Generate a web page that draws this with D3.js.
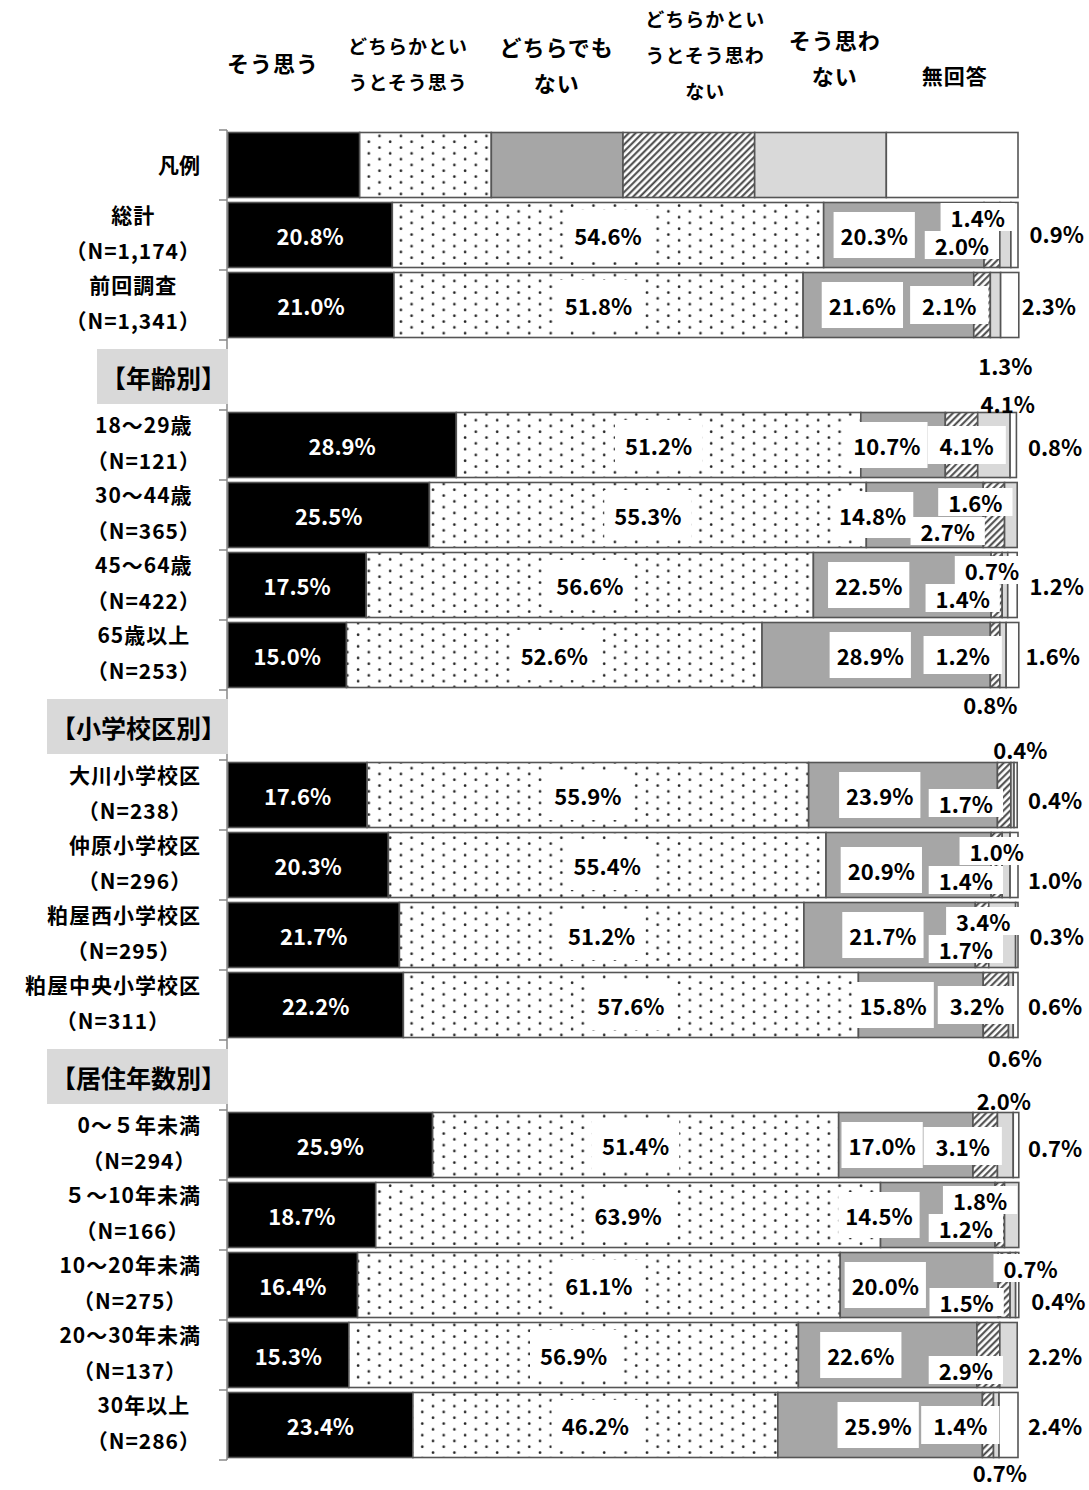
<!DOCTYPE html>
<html>
<head>
<meta charset="utf-8">
<script src="https://cdn.jsdelivr.net/npm/d3@7"></script>
<style>
  body { margin: 0; background: #fff; }
  text { font-family: "Noto Sans CJK JP", "Noto Sans", sans-serif; font-weight: bold; }
</style>
</head>
<body>
<svg id="chart" width="1089" height="1490"></svg>
<script>
// ---- answer categories ----
const categories = ["そう思う", "どちらかといえばそう思う", "どちらでもない",
                    "どちらかといえばそう思わない", "そう思わない", "無回答"];
const headerLines = [["そう思う"], ["どちらかとい", "うとそう思う"], ["どちらでも", "ない"],
                     ["どちらかとい", "うとそう思わ", "ない"], ["そう思わ", "ない"], ["無回答"]];

// ---- respondent groups ----
const groupLabels = ["総計", "前回調査",
  "18～29歳", "30～44歳", "45～64歳", "65歳以上",
  "大川小学校区", "仲原小学校区", "粕屋西小学校区", "粕屋中央小学校区",
  "0～５年未満", "５～10年未満", "10～20年未満", "20～30年未満", "30年以上"];
const groupN = ["1,174", "1,341", "121", "365", "422", "253",
  "238", "296", "295", "311", "294", "166", "275", "137", "286"];
const sectionHeadings = [null, "【年齢別】", "【小学校区別】", "【居住年数別】"];
const sectionGroups = [[0, 1], [2, 3, 4, 5], [6, 7, 8, 9], [10, 11, 12, 13, 14]];

// ---- shares (%) per category ----
const soOmou      = [20.8, 21.0, 28.9, 25.5, 17.5, 15.0, 17.6, 20.3, 21.7, 22.2, 25.9, 18.7, 16.4, 15.3, 23.4];
const yaSoOmou    = [54.6, 51.8, 51.2, 55.3, 56.6, 52.6, 55.9, 55.4, 51.2, 57.6, 51.4, 63.9, 61.1, 56.9, 46.2];
const dochiraDemo = [20.3, 21.6, 10.7, 14.8, 22.5, 28.9, 23.9, 20.9, 21.7, 15.8, 17.0, 14.5, 20.0, 22.6, 25.9];
const yaOmowanai  = [2.0, 2.1, 4.1, 2.7, 1.4, 1.2, 1.7, 1.4, 1.7, 3.2, 3.1, 1.2, 1.5, 2.9, 1.4];
const omowanai    = [1.4, 1.3, 4.1, 1.6, 0.7, 0.8, 0.4, 1.0, 3.4, 0.6, 2.0, 1.8, 0.7, 2.2, 0.7];
const muKaito     = [0.9, 2.3, 0.8, 0.0, 1.2, 1.6, 0.4, 1.0, 0.3, 0.6, 0.7, 0.0, 0.4, 0.0, 2.4];
const series = [soOmou, yaSoOmou, dochiraDemo, yaOmowanai, omowanai, muKaito];

// ---- label placement for the narrow segments: [axis %, vertical offset from bar centre] ----
const spot2 = [[81.8,0],[80.3,0],[83.4,0],[81.6,0],[81.1,0],[81.3,0],[82.5,0],[82.7,5],[82.9,0],[84.2,0],[82.8,0],[82.4,0],[83.2,0],[80.1,0],[82.3,0]];
const spot3 = [[92.9,10],[91.3,0],[93.5,0],[91.1,16],[93.0,13],[93.0,0],[93.4,8],[93.4,15],[93.4,14],[94.8,0],[93.0,1],[93.4,13],[93.5,17],[93.4,15],[92.7,0]];
const spot4 = [[94.9,-18],[98.4,60],[98.7,-42],[94.6,-13],[96.7,-15],[96.5,49],[100.3,-46],[97.3,-14],[95.6,-14],[99.6,52],[98.2,-45],[95.2,-15],[101.6,-17],[104.7,0],[97.7,47]];
const spot5 = [[104.9,-2],[103.9,0],[104.7,1],null,[104.9,0],[104.4,0],[104.7,4],[104.7,14],[104.9,0],[104.7,0],[104.7,2],null,[105.1,15],null,[104.7,0]];
const headerAt = [5.7, 22.8, 41.6, 60.4, 76.8, 92.0];
const headerY = [62, 63, 64, 54, 57, 75];
const headerSize = [22, 19, 22, 19, 22, 21];

// ---- rows: legend, then each section ----
const rows = [{type: "legend"}];
sectionHeadings.forEach((h, s) => {
  if (h) rows.push({type: "heading", text: h});
  sectionGroups[s].forEach(g => rows.push({type: "bar", g}));
});
rows.forEach((r, i) => r.key = "row" + i);

const svg = d3.select("#chart");
const x = d3.scaleLinear().domain([0, 100]).range([228, 1018]);
const y = d3.scaleBand().domain(rows.map(r => r.key)).range([130, 1460])
  .paddingInner(0.0714).paddingOuter(0.0357);
const bh = y.bandwidth();
const step = y.step();

// ---- fill patterns ----
const defs = svg.append("defs");
const dots = defs.append("pattern").attr("id", "dots").attr("patternUnits", "userSpaceOnUse")
  .attr("width", 21.4).attr("height", 11.6);
dots.append("rect").attr("width", 21.4).attr("height", 11.6).attr("fill", "#fff");
dots.append("circle").attr("cx", 5).attr("cy", 2.6).attr("r", 1.35).attr("fill", "#222");
dots.append("circle").attr("cx", 15.7).attr("cy", 8.4).attr("r", 1.35).attr("fill", "#222");
const hatch = defs.append("pattern").attr("id", "hatch").attr("patternUnits", "userSpaceOnUse")
  .attr("width", 4.8).attr("height", 10).attr("patternTransform", "rotate(45)");
hatch.append("rect").attr("width", 4.8).attr("height", 10).attr("fill", "#fff");
hatch.append("line").attr("x1", 1.2).attr("x2", 1.2).attr("y1", 0).attr("y2", 10)
  .attr("stroke", "#444").attr("stroke-width", 2.0);

const fills = ["#000", "url(#dots)", "#a6a6a6", "url(#hatch)", "#d9d9d9", "#fff"];

// ---- stacked segments ----
function stackRow(vals) {
  let c = 0;
  return vals.map((v, k) => { const s = {k, v, x0: c, x1: c + v}; c += v; return s; });
}
const barRows = rows.filter(r => r.type === "bar");
const segData = [];
rows.forEach(r => {
  if (r.type === "legend") {
    categories.forEach((c, k) => segData.push({key: r.key, k, x0: k * 100 / categories.length, x1: (k + 1) * 100 / categories.length, v: null}));
  } else if (r.type === "bar") {
    stackRow(series.map(s => s[r.g])).forEach(s => { if (s.v > 0) segData.push({key: r.key, ...s}); });
  }
});

svg.append("g").selectAll("rect").data(segData).join("rect")
  .attr("x", d => x(d.x0)).attr("width", d => x(d.x1) - x(d.x0))
  .attr("y", d => y(d.key)).attr("height", bh)
  .attr("fill", d => fills[d.k])
  .attr("stroke", "#555").attr("stroke-width", 1.6);

// ---- left axis with boundary ticks ----
const axis = svg.append("g").attr("stroke", "#888").attr("stroke-width", 1.5);
axis.append("line").attr("x1", 227).attr("x2", 227).attr("y1", y.range()[0]).attr("y2", y.range()[1]);
d3.range(rows.length + 1).forEach(i => {
  const yy = y.range()[0] + i * step;
  axis.append("line").attr("x1", 219).attr("x2", 227).attr("y1", yy).attr("y2", yy);
});

// ---- header (category names) ----
const hdr = svg.append("g");
headerLines.forEach((lines, k) => {
  const gap = 36;
  lines.forEach((ln, j) => {
    hdr.append("text").text(ln)
      .attr("x", x(headerAt[k]))
      .attr("y", headerY[k] + (j - (lines.length - 1) / 2) * gap)
      .attr("text-anchor", "middle").attr("dominant-baseline", "central")
      .attr("font-size", headerSize[k]).attr("letter-spacing", 1).attr("fill", "#000");
  });
});

// ---- row labels ----
const lab = svg.append("g");
rows.forEach(r => {
  const cy = y(r.key) + bh / 2;
  if (r.type === "legend") {
    lab.append("text").text("凡例").attr("x", 200).attr("y", cy - 1)
      .attr("text-anchor", "end").attr("dominant-baseline", "central").attr("font-size", 21);
  } else if (r.type === "heading") {
    const g = lab.append("g");
    const rect = g.append("rect").attr("fill", "#d9d9d9");
    const t = g.append("text").text(r.text).attr("x", 226).attr("y", cy + 2)
      .attr("text-anchor", "end").attr("dominant-baseline", "central").attr("font-size", 25);
    const bb = t.node().getBBox();
    rect.attr("x", bb.x - 4).attr("width", 228 - (bb.x - 4)).attr("y", cy - 26).attr("height", 55);
  } else {
    const t1 = lab.append("text").text(groupLabels[r.g]).attr("y", cy - 21);
    const t2 = lab.append("text").text("（N=" + groupN[r.g] + "）").attr("y", cy + 15);
    [t1, t2].forEach(t => t.attr("font-size", 21).attr("letter-spacing", 1)
      .attr("text-anchor", "middle").attr("dominant-baseline", "central"));
    const w = Math.max(t1.node().getComputedTextLength(), t2.node().getComputedTextLength());
    t1.attr("x", 201 - w / 2); t2.attr("x", 201 - w / 2);
  }
});

// ---- value labels ----
const vl = svg.append("g");
const fmt = v => v.toFixed(1) + "%";
function boxed(px, py, txt, padX, h, box) {
  const g = vl.append("g");
  const rect = g.append("rect").attr("fill", "#fff");
  const t = g.append("text").text(txt).attr("x", px).attr("y", py)
    .attr("text-anchor", "middle").attr("dominant-baseline", "central")
    .attr("font-size", 22).attr("fill", "#000");
  if (box) {
    const w = t.node().getComputedTextLength() + padX * 2;
    rect.attr("x", px - w / 2).attr("width", w).attr("y", py - h / 2).attr("height", h);
  } else rect.remove();
}
barRows.forEach(r => {
  const g = r.g;
  const cy = y(r.key) + bh / 2;
  const segs = stackRow(series.map(s => s[g]));
  // first category: white text on black
  vl.append("text").text(fmt(segs[0].v))
    .attr("x", x((segs[0].x0 + segs[0].x1) / 2)).attr("y", cy)
    .attr("text-anchor", "middle").attr("dominant-baseline", "central")
    .attr("font-size", 22).attr("fill", "#fff");
  // second category: centred, boxed
  boxed(x((segs[1].x0 + segs[1].x1) / 2), cy, fmt(segs[1].v), 10, 50, true);
  // third category
  boxed(x(spot2[g][0]), cy + spot2[g][1], fmt(segs[2].v), 7, 46, true);
  // narrow segments
  [[3, spot3], [4, spot4], [5, spot5]].forEach(([k, spots]) => {
    const sp = spots[g];
    if (!sp || segs[k].v <= 0) return;
    const [p, dy] = sp;
    const near = Math.abs(dy) < 30 && p < 103;
    const h = Math.abs(dy) < 6 ? 38 : 28;
    boxed(x(p), cy + dy, fmt(segs[k].v), Math.abs(dy) < 6 ? 12 : 10, h, near);
  });
});
</script>
</body>
</html>
